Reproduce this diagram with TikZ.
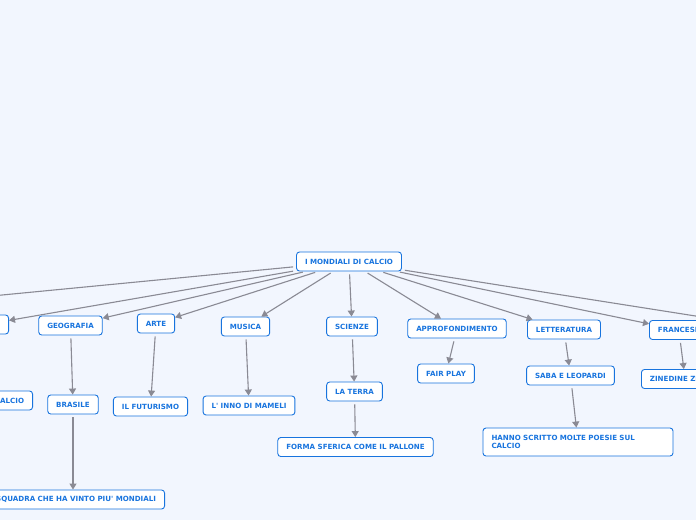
\documentclass[tikz,border=0pt]{standalone}
\usepackage{fontspec}
\newfontfamily\mapfont{DejaVu Sans}
\usepackage{tikz}
\usetikzlibrary{arrows.meta}

\definecolor{mapbg}{RGB}{242,246,254}
\definecolor{mapblue}{RGB}{24,116,222}
\definecolor{mapline}{RGB}{138,138,148}

\begin{document}
\begin{tikzpicture}[x=1pt,y=1pt,yscale=-1,
  topic/.style={draw=mapblue,fill=white,line width=0.9pt,rounded corners=3pt,
    text=mapblue,font=\mapfont\bfseries\fontsize{7.1}{8.6}\selectfont,
    inner xsep=8.5pt,inner ysep=0pt,minimum height=19pt},
  link/.style={draw=mapline,line width=1.1pt,shorten <=3pt,
    -{Triangle[width=7pt,length=6pt]}}]
%set diagram frame: 696 x 520
\fill [mapbg] (0,0) rectangle (696,520);
\useasboundingbox (0,0) rectangle (696,520);
\clip (0,0) rectangle (696,520);

% Root
\node [topic] (root) at (349,261.5) {I MONDIALI DI CALCIO};

% First level
\node [topic,anchor=east] (storia) at (9,324.5) {STORIA};
\node [topic] (geo) at (70.5,325.5) {GEOGRAFIA};
\node [topic] (arte) at (156,323.5) {ARTE};
\node [topic] (musica) at (245.5,326.5) {MUSICA};
\node [topic] (scienze) at (352,326.5) {SCIENZE};
\node [topic] (appro) at (457,328.5) {APPROFONDIMENTO};
\node [topic] (lett) at (564,329.5) {LETTERATURA};
\node [topic,anchor=west] (franc) at (649,330) {FRANCESE};
% off-page branches
\coordinate (offleft) at (-60,301);
\coordinate (offright) at (740,323);

% Second level
\node [topic,anchor=east] (storcalc) at (33,400.5) {STORIA DEL CALCIO};
\node [topic] (brasile) at (73,404.5) {BRASILE};
\node [topic] (futur) at (150.5,406.5) {IL FUTURISMO};
\node [topic] (inno) at (249,405.5) {L' INNO DI MAMELI};
\node [topic] (terra) at (354.5,391.5) {LA TERRA};
\node [topic] (fair) at (446,373.5) {FAIR PLAY};
\node [topic] (saba) at (570.5,375.5) {SABA E LEOPARDI};
\node [topic,anchor=west] (zidane) at (641,379) {ZINEDINE ZIDANE};

% Third level
\node [topic,anchor=east] (squadra) at (165,499.5) {LA SQUADRA CHE HA VINTO PIU' MONDIALI};
\node [topic] (sfera) at (355.5,447) {FORMA SFERICA COME IL PALLONE};
\node [topic,text width=173pt,align=left,minimum height=28pt] (poesie) at (578,442)
  {HANNO SCRITTO MOLTE POESIE SUL\\CALCIO};

% Connectors
\draw [link] (root) -- (offleft);
\draw [link] (root) -- (storia);
\draw [link] (root) -- (geo);
\draw [link] (root) -- (arte);
\draw [link] (root) -- (musica);
\draw [link] (root) -- (scienze);
\draw [link] (root) -- (appro);
\draw [link] (root) -- (lett);
\draw [link] (root) -- (franc);
\draw [link] (root) -- (offright);

\draw [link] (geo) -- (brasile);
\draw [link] (arte) -- (futur);
\draw [link] (musica) -- (inno);
\draw [link] (scienze) -- (terra);
\draw [link] (appro) -- (fair);
\draw [link] (lett) -- (saba);
\draw [link] (franc) -- (zidane);
\draw [link] (brasile) -- (squadra.north -| brasile);
\draw [link] (terra) -- (sfera);
\draw [link] (saba) -- (poesie);

\end{tikzpicture}
\end{document}
